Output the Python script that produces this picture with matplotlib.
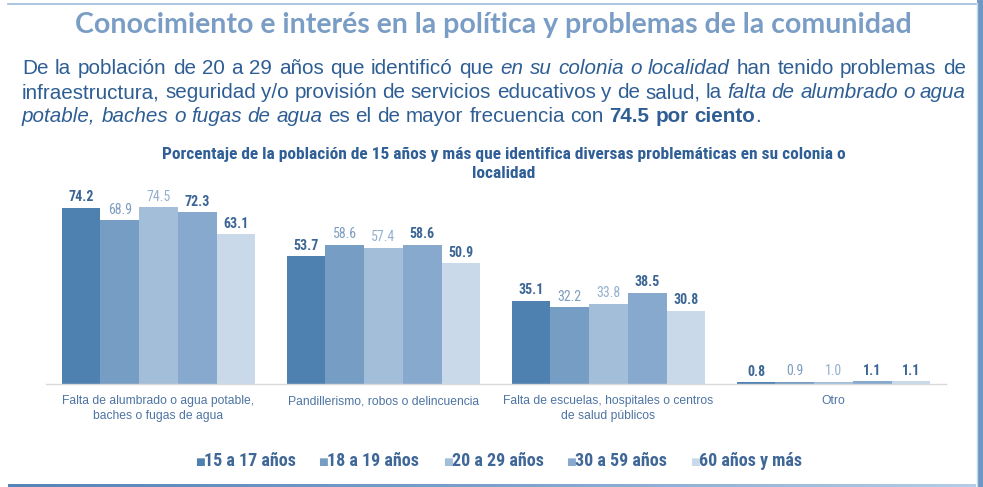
import matplotlib
matplotlib.use("Agg")
import matplotlib.pyplot as plt
import numpy as np
from matplotlib.lines import Line2D
from matplotlib import font_manager
from matplotlib.colors import LinearSegmentedColormap

categories = ["Falta de alumbrado o agua potable,\nbaches o fugas de agua",
              "Pandillerismo, robos o delincuencia",
              "Falta de escuelas, hospitales o centros\nde salud públicos",
              "Otro"]
series_names = ["15 a 17 años", "18 a 19 años", "20 a 29 años", "30 a 59 años", "60 años y más"]
v_15_17 = [74.2, 53.7, 35.1, 0.8]
v_18_19 = [68.9, 58.6, 32.2, 0.9]
v_20_29 = [74.5, 57.4, 33.8, 1.0]
v_30_59 = [72.3, 58.6, 38.5, 1.1]
v_60 = [63.1, 50.9, 30.8, 1.1]
values = [v_15_17, v_18_19, v_20_29, v_30_59, v_60]

bar_colors = ["#4f81b0", "#769dc4", "#a2bed9", "#87a9ce", "#c9d9ea"]
label_colors = ["#3b6594", "#7e9cc0", "#95b0cf", "#3b6594", "#3b6594"]
label_weights = ["bold", "normal", "normal", "bold", "bold"]

W, H = 983, 487
fig = plt.figure(figsize=(W/100, H/100), dpi=100)
fig.patch.set_facecolor("white")

def fx(x): return x / W
def fy(y): return 1 - y / H

# look for a condensed sans family if one is installed
names = sorted({f.name for f in font_manager.fontManager.ttflist})
narrow_name = None
for cand in ["Liberation Sans Narrow", "Arial Narrow", "Roboto Condensed", "Open Sans Condensed",
             "DejaVu Sans Condensed", "Noto Sans Condensed"]:
    if cand in names:
        narrow_name = cand
        break
if narrow_name is None:
    for nm in names:
        if "Narrow" in nm or "Condensed" in nm:
            narrow_name = nm
            break
HAVE_NARROW = narrow_name is not None
NARROW = ([narrow_name] if HAVE_NARROW else []) + ["Liberation Sans", "DejaVu Sans"]
SANS = ["Liberation Sans", "DejaVu Sans"]
nscale = 1.0 if HAVE_NARROW else 0.92

# --- slide frame ---
fig.add_artist(Line2D([fx(8), fx(976)], [fy(4), fy(4)], color="#9dbbdc", lw=1.2))
fig.add_artist(Line2D([fx(980), fx(980)], [fy(3), fy(487)], color="#6e98c4", lw=5))
fig.add_artist(Line2D([fx(976.5), fx(976.5)], [fy(3), fy(487)], color="#c5d7ea", lw=1))
gax = fig.add_axes([fx(8), fy(487), fx(968), 3/H])
grad = np.linspace(0, 1, 256)[None, :]
cm = LinearSegmentedColormap.from_list("g", ["#5584b8", "#7aa1cc", "#b5cde6"])
gax.imshow(grad, aspect="auto", cmap=cm, extent=[0, 1, 0, 1])
gax.axis("off")

# --- title ---
fig.text(fx(493), fy(25), "Conocimiento e interés en la política y problemas de la comunidad",
         ha="center", va="center", fontsize=20.5, fontweight="bold", color="#7a9dc6",
         family=["Lato", "DejaVu Sans"])

# --- paragraph (justified) ---
para_color = "#2e5e94"
lines = [
    [("De la población de 20 a 29 años que identificó que", "normal", "normal"),
     ("en su colonia o localidad", "italic", "normal"),
     ("han tenido problemas de", "normal", "normal")],
    [("infraestructura, seguridad y/o provisión de servicios educativos y de salud, la", "normal", "normal"),
     ("falta de alumbrado o agua", "italic", "normal")],
    [("potable, baches o fugas de agua", "italic", "normal"),
     ("es el de mayor frecuencia con", "normal", "normal"),
     ("74.5 por ciento", "normal", "bold"),
     (".", "normal", "normal")],
]
line_y = [68, 93, 117]
x_left, x_right = 22, 966
psize = 14.9
renderer = fig.canvas.get_renderer()

def wwidth(s, style, weight):
    t = fig.text(0, 0, s, fontsize=psize, style=style, fontweight=weight, family=SANS)
    w = t.get_window_extent(renderer).width
    t.remove()
    return w

space_w = wwidth("a a", "normal", "normal") - wwidth("aa", "normal", "normal")
for li, (segs, yy) in enumerate(zip(lines, line_y)):
    words = []
    for s, st, wt in segs:
        for w in s.split(" "):
            words.append([w, st, wt, True])
    if words[-1][0] == ".":
        words[-1][3] = False
    widths = [wwidth(w, st, wt) for w, st, wt, _ in words]
    ngaps = sum(1 for k in range(1, len(words)) if words[k][3])
    justify = li < 2
    gap = (x_right - x_left - sum(widths)) / ngaps if justify else space_w
    x = x_left
    for k, ((w, st, wt, sp), ww) in enumerate(zip(words, widths)):
        if k > 0 and sp:
            x += gap
        fig.text(fx(x), fy(yy), w, fontsize=psize, style=st, fontweight=wt, family=SANS,
                 color=para_color, ha="left", va="center")
        x += ww

# --- chart title ---
fig.text(fx(504), fy(155), "Porcentaje de la población de 15 años y más que identifica diversas problemáticas en su colonia o",
         ha="center", va="center", fontsize=12.5 * nscale, fontweight="bold", color="#2f5f96", family=NARROW)
fig.text(fx(504), fy(173), "localidad",
         ha="center", va="center", fontsize=12.5 * nscale, fontweight="bold", color="#2f5f96", family=NARROW)

# --- bars ---
ax = fig.add_axes([fx(46), fy(384), fx(900), 80 * 2.376 / H])
n = len(series_names)
x = np.arange(len(categories))
bw = 0.172
for i, (vals, c) in enumerate(zip(values, bar_colors)):
    pos = x + (i - (n - 1) / 2) * bw
    ax.bar(pos, vals, width=bw, color=c, edgecolor="none")
    for p, v in zip(pos, vals):
        ax.annotate(f"{v:.1f}", (p, v), xytext=(0, 2.5), textcoords="offset points",
                    ha="center", va="bottom", fontsize=10 * nscale, fontweight=label_weights[i],
                    color=label_colors[i], family=NARROW)
ax.set_xlim(-0.5, len(categories) - 0.5)
ax.set_ylim(0, 80)
for s in ["top", "right", "left"]:
    ax.spines[s].set_visible(False)
ax.spines["bottom"].set_color("#d9d9d9")
ax.spines["bottom"].set_linewidth(1)
ax.set_yticks([])
ax.set_xticks(x)
ax.set_xticklabels(categories, fontsize=8.7, color="#4e74a3", family=SANS, linespacing=1.3)
ax.tick_params(axis="x", length=0, pad=8)
ax.patch.set_alpha(0)

# --- legend ---
leg_x = [195, 318, 443, 566, 690]
for lx, name, c in zip(leg_x, series_names, bar_colors):
    fig.text(fx(lx), fy(462), "■", ha="left", va="center", fontsize=7.5, color=c,
             family=["DejaVu Sans"])
    fig.text(fx(lx + 9), fy(461), name, ha="left", va="center", fontsize=13 * nscale,
             fontweight="bold", color="#3f6797", family=NARROW)

fig.savefig("out.png", dpi=100, facecolor="white")
